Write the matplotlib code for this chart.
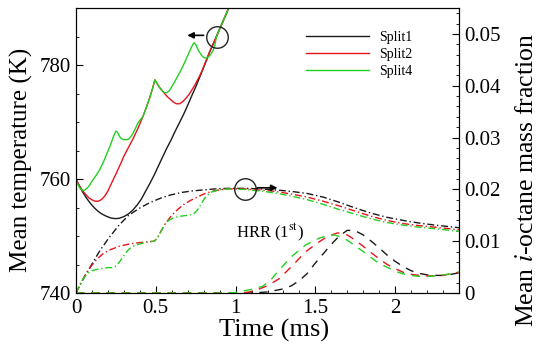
import matplotlib
matplotlib.use("Agg")
import matplotlib.pyplot as plt
from matplotlib.ticker import MultipleLocator, FuncFormatter

plt.rcParams['font.family'] = ['Liberation Serif', 'DejaVu Serif']
plt.rcParams['mathtext.fontset'] = 'stix'

# mean temperature (K), solid lines, left axis
t_T1 = [0, 0.02, 0.04, 0.06, 0.08, 0.1, 0.12, 0.14, 0.16, 0.18, 0.2, 0.22, 0.244, 0.27, 0.3,
        0.33, 0.358, 0.385, 0.41, 0.435, 0.4625, 0.49, 0.515, 0.54, 0.567, 0.595, 0.62, 0.645,
        0.67, 0.69, 0.71, 0.73, 0.754, 0.78, 0.8, 0.82, 0.8375, 0.86, 0.88, 0.9, 0.92, 0.94,
        0.96, 1.0]
T1 = [760, 758.8, 757.8, 756.9, 756.1, 755.4, 754.8, 754.3, 753.9, 753.6, 753.35, 753.15,
      753.05, 753.1, 753.4, 753.9, 754.6, 755.5, 756.5, 757.8, 759.2, 760.7, 762.2, 763.7,
      765.3, 766.8, 768.3, 769.7, 771.1, 772.3, 773.6, 774.9, 776.4, 778.2, 779.6, 781.0,
      782.3, 783.7, 785.0, 786.3, 787.6, 788.9, 790.2, 793.0]

t_T2 = [0, 0.02, 0.04, 0.06, 0.08, 0.1, 0.12, 0.14, 0.16, 0.18, 0.2, 0.225, 0.254, 0.28, 0.3,
        0.33, 0.358, 0.39, 0.42, 0.44, 0.46, 0.48, 0.494,
        0.505, 0.52, 0.535, 0.546, 0.57, 0.59, 0.61, 0.629, 0.65, 0.67, 0.69, 0.71, 0.73,
        0.745, 0.76, 0.775, 0.79, 0.81, 0.8375, 0.86, 0.88, 0.9, 0.92, 0.94, 0.96, 1.0]
T2 = [760, 758.9, 758.0, 757.3, 756.7, 756.35, 756.1, 756.1, 756.4, 757.0, 757.9, 759.4,
      761.1, 762.7, 764.0, 765.6, 767.1, 769.0, 771.0, 772.5, 774.1, 775.9, 777.4,
      776.9, 776.2, 775.7, 775.3, 774.5, 774.0, 773.5, 773.2, 773.2, 773.6, 774.2, 774.9,
      775.8, 776.5, 777.3, 778.1, 779.0, 780.4, 782.3, 783.7, 785.0, 786.3, 787.6, 788.9,
      790.2, 793.0]

t_T4 = [0, 0.01, 0.02, 0.03, 0.04, 0.055, 0.07, 0.085, 0.1, 0.125, 0.15, 0.175, 0.2, 0.215,
        0.23, 0.24, 0.25,
        0.26, 0.27, 0.28, 0.29, 0.3, 0.317, 0.33, 0.34, 0.355, 0.369, 0.39, 0.42, 0.44, 0.46,
        0.48, 0.494,
        0.505, 0.52, 0.535, 0.55, 0.567, 0.585, 0.6, 0.625, 0.65, 0.67, 0.69, 0.71, 0.72, 0.73,
        0.74,
        0.75, 0.76, 0.77, 0.78, 0.79, 0.8, 0.817, 0.83, 0.845, 0.86, 0.87, 0.88, 0.9, 0.92,
        0.94, 0.96, 1.0]
T4 = [760, 759.2, 758.6, 758.2, 758.0, 758.05, 758.4, 758.9, 759.6, 760.6, 761.7, 763.2,
      764.9, 765.9, 767.1, 767.8, 768.4,
      768.2, 767.6, 767.2, 767.0, 766.9, 766.9, 767.0, 767.3, 767.9, 768.7, 769.9, 771.0,
      772.5, 774.1, 775.9, 777.4,
      776.9, 776.2, 775.6, 775.2, 775.1, 775.5, 776.2, 777.4, 778.7, 779.8, 781.0, 782.3,
      782.9, 783.5, 783.9,
      783.6, 783.0, 782.4, 782.0, 781.6, 781.3, 781.2, 781.4, 781.9, 782.6, 783.4, 785.0,
      786.3, 787.6, 788.9, 790.2, 793.0]

# mean i-octane mass fraction, dash-dot lines, right axis
t_Y1 = [0, 0.03, 0.06, 0.1, 0.15, 0.21, 0.27, 0.33, 0.4, 0.46, 0.53, 0.59, 0.66, 0.73, 0.8,
        0.88, 0.95, 1.05, 1.15, 1.25, 1.35, 1.45, 1.55, 1.65, 1.75, 1.85, 1.95, 2.05, 2.15,
        2.25, 2.4]
Y1 = [0, 0.0018, 0.0035, 0.0056, 0.0082, 0.0108, 0.0131, 0.0150, 0.0164, 0.0174, 0.0183,
      0.0189, 0.0194, 0.0197, 0.0199, 0.0201, 0.0202, 0.0202, 0.0201, 0.0199, 0.0196, 0.0192,
      0.0185, 0.0175, 0.0164, 0.0154, 0.0146, 0.0140, 0.0135, 0.0131, 0.0126]

t_Y2 = [0, 0.03, 0.06, 0.09, 0.13, 0.17, 0.21, 0.27, 0.34, 0.42, 0.49, 0.51, 0.53, 0.56, 0.6,
        0.64, 0.68, 0.72, 0.76, 0.8, 0.85, 0.9, 0.95, 1.05, 1.15, 1.25, 1.35, 1.45, 1.55, 1.65,
        1.75, 1.85, 1.95, 2.05, 2.15, 2.25, 2.4]
Y2 = [0, 0.0019, 0.0036, 0.0050, 0.0065, 0.0076, 0.0083, 0.0090, 0.0095, 0.0098, 0.0100,
      0.0106, 0.0118, 0.0134, 0.0150, 0.0162, 0.0172, 0.0179, 0.0185, 0.0191, 0.0196, 0.0199,
      0.0201, 0.0201, 0.0199, 0.0196, 0.0191, 0.0185, 0.0177, 0.0168, 0.0158, 0.0148, 0.0140,
      0.0134, 0.0130, 0.0127, 0.0122]

t_Y4 = [0, 0.025, 0.046, 0.07, 0.1, 0.15, 0.2, 0.233, 0.255, 0.275, 0.3, 0.327, 0.35, 0.38,
        0.43, 0.49, 0.51, 0.53, 0.556, 0.58, 0.61, 0.65, 0.7, 0.735, 0.755, 0.775, 0.8, 0.82,
        0.85, 0.9, 0.95, 1.05, 1.15, 1.25, 1.35, 1.45, 1.55, 1.65, 1.75, 1.85, 1.95, 2.05,
        2.15, 2.25, 2.4]
Y4 = [0, 0.0016, 0.0028, 0.0037, 0.0043, 0.0047, 0.0049, 0.0049, 0.0053, 0.0061, 0.0072,
      0.0083, 0.0089, 0.0093, 0.0097, 0.0100, 0.0106, 0.0117, 0.0132, 0.0140, 0.0145, 0.0148,
      0.0150, 0.0152, 0.0158, 0.0167, 0.0180, 0.0188, 0.0195, 0.0199, 0.0201, 0.0200, 0.0197,
      0.0193, 0.0187, 0.0180, 0.0171, 0.0161, 0.0152, 0.0143, 0.0136, 0.0131, 0.0127, 0.0124,
      0.0119]

# heat release rate (1st stage), dashed lines, right axis scale
t_H1 = [0, 1.1, 1.2, 1.3, 1.35, 1.4, 1.45, 1.5, 1.55, 1.6, 1.65, 1.7, 1.75, 1.8, 1.85, 1.9,
        1.95, 2.0, 2.05, 2.1, 2.15, 2.2, 2.25, 2.3, 2.35, 2.4]
H1 = [0, 0, 0.0002, 0.0008, 0.0014, 0.0024, 0.0038, 0.0058, 0.0076, 0.0094, 0.0110, 0.0121,
      0.0120, 0.0112, 0.0100, 0.0087, 0.0073, 0.0061, 0.0051, 0.0043, 0.0038, 0.0035, 0.0034,
      0.0034, 0.0036, 0.0039]

t_H2 = [0, 1.05, 1.1, 1.15, 1.2, 1.275, 1.36, 1.44, 1.52, 1.58, 1.64, 1.7, 1.75, 1.8, 1.84,
        1.9, 1.95, 2.0, 2.05, 2.1, 2.15, 2.2, 2.25, 2.3, 2.35, 2.4]
H2 = [0, 0, 0.0003, 0.0008, 0.0014, 0.0028, 0.0054, 0.0080, 0.0098, 0.0110, 0.0116, 0.0112,
      0.0102, 0.0090, 0.0080, 0.0066, 0.0055, 0.0047, 0.0040, 0.0036, 0.0034, 0.0033, 0.0033,
      0.0034, 0.0037, 0.0040]

t_H4 = [0, 0.95, 1.0, 1.05, 1.1, 1.17, 1.22, 1.275, 1.35, 1.44, 1.525, 1.57, 1.62, 1.68,
        1.74, 1.8, 1.85, 1.9, 1.96, 2.0, 2.05, 2.1, 2.15, 2.2, 2.25, 2.3, 2.35, 2.4]
H4 = [0, 0, 0.0001, 0.0004, 0.0007, 0.0013, 0.0025, 0.0045, 0.0070, 0.0093, 0.0106, 0.0110,
      0.0112, 0.0106, 0.0093, 0.0080, 0.0068, 0.0057, 0.0048, 0.0042, 0.0037, 0.0034, 0.0032,
      0.0032, 0.0033, 0.0035, 0.0037, 0.0041]

labels = ['Split1', 'Split2', 'Split4']
colors = ['#1a1a1a', '#e8141c', '#22d022']

fig = plt.figure(figsize=(5.38, 3.45), dpi=100)
ax = fig.add_axes([76/538, 1-293/345, (459-76)/538, (293-8)/345])
ax2 = ax.twinx()

lw = 1.0
dashdot = (5, 2, 1, 2)
dashed = (6, 5)

sol = []
for tt, TT, c, lab in zip([t_T1, t_T2, t_T4], [T1, T2, T4], colors, labels):
    l, = ax.plot(tt, TT, color=c, lw=lw, label=lab)
    sol.append(l)

for tt, yy, c in zip([t_Y1, t_Y2, t_Y4], [Y1, Y2, Y4], colors):
    ax2.plot(tt, yy, color=c, lw=lw, dashes=dashdot)
for tt, hh, c in zip([t_H1, t_H2, t_H4], [H1, H2, H4], colors):
    ax2.plot(tt, hh, color=c, lw=lw, dashes=dashed)

ax.set_xlim(0, 2.4)
ax.set_ylim(740, 790)
ax2.set_ylim(0, 0.055)

ax.xaxis.set_major_locator(MultipleLocator(0.5))
ax.xaxis.set_minor_locator(MultipleLocator(0.1))
ax.yaxis.set_major_locator(MultipleLocator(20))
ax.yaxis.set_minor_locator(MultipleLocator(5))
ax2.yaxis.set_major_locator(MultipleLocator(0.01))
ax2.yaxis.set_minor_locator(MultipleLocator(0.002))

fmt = FuncFormatter(lambda v, p: ('%g' % round(v, 4)))
ax.xaxis.set_major_formatter(fmt)
ax2.yaxis.set_major_formatter(fmt)

ax.tick_params(which='both', direction='in', top=False, right=False, labelsize=15)
ax.tick_params(which='major', length=5)
ax.tick_params(which='minor', length=2.5)
ax2.tick_params(which='both', direction='in', labelsize=15)
ax2.tick_params(which='major', length=5)
ax2.tick_params(which='minor', length=2.5)
ax.tick_params(axis='x', pad=4)

ax.set_xlabel('Time (ms)', fontsize=19)
ax.xaxis.set_label_coords((274-76)/383, -0.09)
ax.set_ylabel('Mean temperature (K)', fontsize=18)
ax.yaxis.set_label_coords((33-76)/383, (293-160)/285)
ax2.set_ylabel('Mean $\\it{i}$-octane mass fraction', fontsize=18.5)
ax2.yaxis.set_label_coords((516-76)/383, (293-180)/285)

# annotations: circles with arrows pointing to each axis
ax.plot([0.883], [784.9], marker='o', ms=15.5, mfc='none', mec='#222222', mew=1.0)
ax.annotate('', xy=(0.68, 785.2), xytext=(0.817, 785.2),
            arrowprops=dict(arrowstyle='-|>', color='k', lw=1.2, mutation_scale=9))
ax2.plot([1.056], [0.0201], marker='o', ms=15.5, mfc='none', mec='#222222', mew=1.0)
ax2.annotate('', xy=(1.28, 0.0203), xytext=(1.12, 0.0203),
             arrowprops=dict(arrowstyle='-|>', color='k', lw=1.2, mutation_scale=9))

ax2.text(1.0, 0.0108, 'HRR (1$^{\\mathrm{st}}$)', fontsize=12)

leg = ax.legend(handles=sol, loc='upper left', bbox_to_anchor=(306/538, 1-31/345),
                bbox_transform=fig.transFigure, frameon=False, fontsize=10,
                handlelength=4.5, handletextpad=0.8, labelspacing=0.3,
                borderpad=0, borderaxespad=0)

fig.savefig('out.png', dpi=100)
